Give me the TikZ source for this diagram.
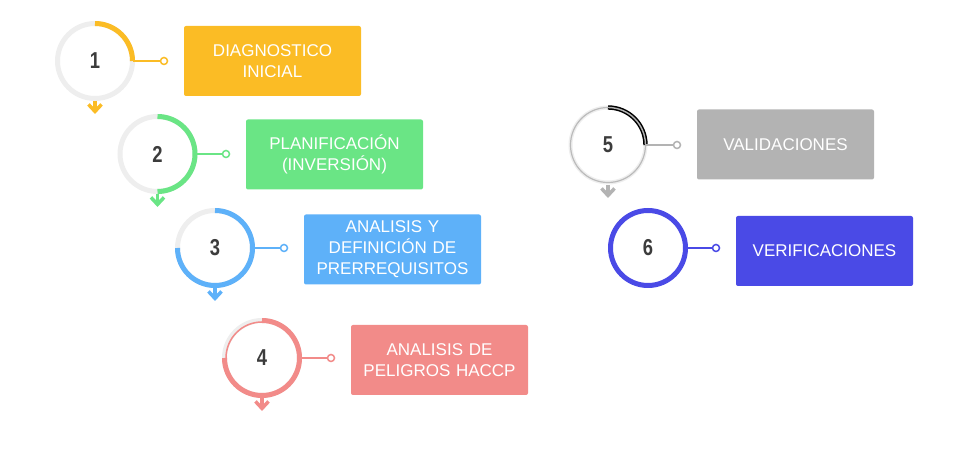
\documentclass[tikz,border=0pt]{standalone}
\usepackage{fontspec}
\setmainfont{Liberation Sans}
\newfontfamily\numfont[FakeStretch=0.8]{Liberation Sans}
\usepackage{xcolor}
\usetikzlibrary{arrows.meta}

\definecolor{amarillo}{HTML}{FBBC25}
\definecolor{verde}{HTML}{6AE585}
\definecolor{azul}{HTML}{5EB1F9}
\definecolor{rojo}{HTML}{F28B89}
\definecolor{gris}{HTML}{B3B3B3}
\definecolor{indigo}{HTML}{4A4AE6}
\definecolor{anillo}{HTML}{EEEEEE}
\definecolor{cifra}{HTML}{3C3C3C}

\tikzset{
  ring/.style={circle,draw=anillo,line width=5pt,minimum size=75pt,inner sep=0pt,
    outer sep=0pt,fill=white,text=cifra,font=\numfont\bfseries\fontsize{23}{23}\selectfont},
  dot/.style={circle,draw=#1,fill=white,line width=1.5pt,minimum size=7pt,inner sep=0pt},
  box/.style={fill=#1,rounded corners=2pt,minimum width=177pt,minimum height=70pt,
    inner sep=0pt,text width=177pt,align=center,text=white,
    font=\fontsize{17}{21}\selectfont},
  flecha/.style={#1,line width=3.5pt,shorten <=2.5pt,
    -{Straight Barb[length=7pt,width=13pt]}},
}

\begin{document}
\begin{tikzpicture}[x=1pt,y=1pt]
\useasboundingbox (0,0) rectangle (962,455);
\begin{scope}[line cap=butt]
    % paso 1
    \node[ring] (c1) at (95,394) {1};
    \draw[amarillo,line width=5pt] (c1.north) arc(90:0:37.5);
    \node[dot=amarillo] (d1) at (164,394) {};
    \draw[amarillo,line width=2pt] (c1.east) -- (d1);
    \node[box=amarillo] (b1) at (272.5,394) {DIAGNOSTICO\\INICIAL};
    \coordinate (a1) at (95,341);
    \draw[flecha=amarillo] (c1.south) -- (a1);

    % paso 2
    \node[ring] (c2) at (157.5,301) {2};
    \draw[verde,line width=5pt] (c2.north) arc(90:-90:37.5);
    \node[dot=verde] (d2) at (226,301) {};
    \draw[verde,line width=2pt] (c2.east) -- (d2);
    \node[box=verde] (b2) at (334.5,300.5) {PLANIFICACIÓN\\(INVERSIÓN)};
    \coordinate (a2) at (157.5,248);
    \draw[flecha=verde] (c2.south) -- (a2);

    % paso 3
    \node[ring] (c3) at (215,207) {3};
    \draw[azul,line width=5pt] (c3.north) arc(90:-180:37.5);
    \node[dot=azul] (d3) at (284,207) {};
    \draw[azul,line width=2pt] (c3.east) -- (d3);
    \node[box=azul] (b3) at (392.5,205.5) {ANALISIS Y\\DEFINICIÓN DE\\PRERREQUISITOS};
    \coordinate (a3) at (215,154);
    \draw[flecha=azul] (c3.south) -- (a3);

    % paso 4
    \node[ring] (c4) at (262,97) {4};
    \draw[rojo,line width=5pt] (c4.north) arc(90:-180:37.5);
    \draw[rojo,line width=1.5pt] (c4.west) ++(1.5,0) arc(180:90:36);
    \node[dot=rojo] (d4) at (331,97) {};
    \draw[rojo,line width=2pt] (c4.east) -- (d4);
    \node[box=rojo] (b4) at (439.5,95) {ANALISIS DE\\PELIGROS HACCP};
    \coordinate (a4) at (262,44);
    \draw[flecha=rojo] (c4.south) -- (a4);

    % paso 5
    \node[ring,line width=4pt] (c5) at (608,310) {5};
    \draw[gris!90,line width=1.2pt] (c5.center) circle(37.5);
    \draw[black,double=gris,double distance=1.4pt,line width=1.5pt]
        (c5.north) arc(90:0:37.5);
    \node[dot=gris] (d5) at (677,310) {};
    \draw[gris,line width=2pt] (c5.east) -- (d5);
    \node[box=gris] (b5) at (785.5,310.5) {VALIDACIONES};
    \coordinate (a5) at (608,257);
    \draw[flecha=gris] (c5.south) -- (a5);

    % paso 6
    \node[ring,draw=indigo] (c6) at (648,207) {6};
    \node[dot=indigo] (d6) at (716,207) {};
    \draw[indigo,line width=2pt] (c6.east) -- (d6);
    \node[box=indigo] (b6) at (824.5,204) {VERIFICACIONES};
\end{scope}
\end{tikzpicture}
\end{document}
